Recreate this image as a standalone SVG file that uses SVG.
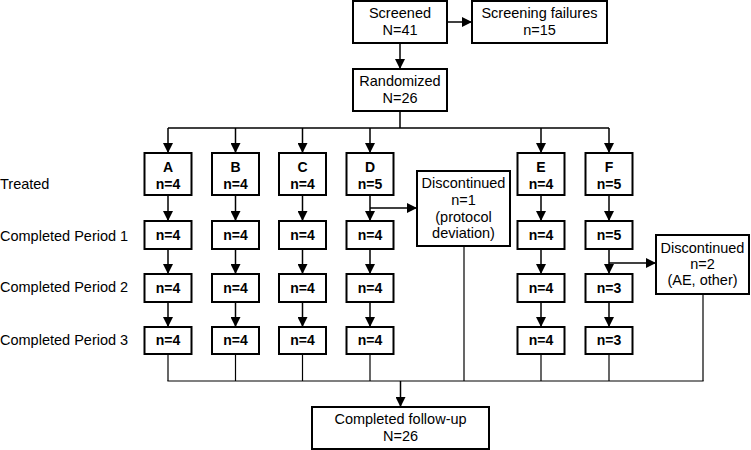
<svg xmlns="http://www.w3.org/2000/svg" width="751" height="450" viewBox="0 0 751 450">
<style>
  .box{fill:#fff;stroke:#000;stroke-width:2}
  .t{font-family:"Liberation Sans",Arial,sans-serif;font-size:14.5px;fill:#000;text-anchor:middle}
  .b{font-family:"Liberation Sans",Arial,sans-serif;font-size:14px;font-weight:bold;fill:#000;text-anchor:middle}
  .lab{font-family:"Liberation Sans",Arial,sans-serif;font-size:14.5px;fill:#000}
  .ln{stroke:#000;stroke-width:1.5;fill:none}
  .thin{stroke:#000;stroke-width:1.2;fill:none}
</style>
<defs>
  <marker id="ah" markerUnits="userSpaceOnUse" markerWidth="10" markerHeight="10" viewBox="0 0 10 10" refX="10" refY="5" orient="auto">
    <path d="M0,0 L10,5 L0,10 Z" fill="#000"/>
  </marker>
</defs>
<rect width="751" height="450" fill="#fff"/>

<g id="labels">
  <text class="lab" x="0" y="189">Treated</text>
  <text class="lab" x="0" y="241">Completed Period 1</text>
  <text class="lab" x="0" y="292">Completed Period 2</text>
  <text class="lab" x="0" y="345">Completed Period 3</text>
</g>

<g id="connectors">
  <line class="ln" x1="400" y1="43" x2="400" y2="69" marker-end="url(#ah)"/>
  <line class="ln" x1="447" y1="22" x2="472" y2="22" marker-end="url(#ah)"/>
  <line class="ln" x1="400" y1="111" x2="400" y2="128"/>
  <line class="ln" x1="168" y1="128" x2="609" y2="128"/>
  <line class="ln" x1="168" y1="128" x2="168" y2="153" marker-end="url(#ah)"/>
  <line class="ln" x1="235.5" y1="128" x2="235.5" y2="153" marker-end="url(#ah)"/>
  <line class="ln" x1="302.5" y1="128" x2="302.5" y2="153" marker-end="url(#ah)"/>
  <line class="ln" x1="370" y1="128" x2="370" y2="153" marker-end="url(#ah)"/>
  <line class="ln" x1="541" y1="128" x2="541" y2="153" marker-end="url(#ah)"/>
  <line class="ln" x1="609" y1="128" x2="609" y2="153" marker-end="url(#ah)"/>
  <!-- column flows -->
  <line class="ln" x1="168" y1="195" x2="168" y2="221" marker-end="url(#ah)"/>
  <line class="ln" x1="168" y1="249" x2="168" y2="274" marker-end="url(#ah)"/>
  <line class="ln" x1="168" y1="302" x2="168" y2="327" marker-end="url(#ah)"/>
  <line class="ln" x1="235.5" y1="195" x2="235.5" y2="221" marker-end="url(#ah)"/>
  <line class="ln" x1="235.5" y1="249" x2="235.5" y2="274" marker-end="url(#ah)"/>
  <line class="ln" x1="235.5" y1="302" x2="235.5" y2="327" marker-end="url(#ah)"/>
  <line class="ln" x1="302.5" y1="195" x2="302.5" y2="221" marker-end="url(#ah)"/>
  <line class="ln" x1="302.5" y1="249" x2="302.5" y2="274" marker-end="url(#ah)"/>
  <line class="ln" x1="302.5" y1="302" x2="302.5" y2="327" marker-end="url(#ah)"/>
  <line class="ln" x1="370" y1="195" x2="370" y2="221" marker-end="url(#ah)"/>
  <line class="ln" x1="370" y1="249" x2="370" y2="274" marker-end="url(#ah)"/>
  <line class="ln" x1="370" y1="302" x2="370" y2="327" marker-end="url(#ah)"/>
  <line class="ln" x1="541" y1="195" x2="541" y2="221" marker-end="url(#ah)"/>
  <line class="ln" x1="541" y1="249" x2="541" y2="274" marker-end="url(#ah)"/>
  <line class="ln" x1="541" y1="302" x2="541" y2="327" marker-end="url(#ah)"/>
  <line class="ln" x1="609" y1="195" x2="609" y2="221" marker-end="url(#ah)"/>
  <line class="ln" x1="609" y1="249" x2="609" y2="274" marker-end="url(#ah)"/>
  <line class="ln" x1="609" y1="302" x2="609" y2="327" marker-end="url(#ah)"/>
  <!-- discontinuations -->
  <line class="ln" x1="370" y1="208" x2="417" y2="208" marker-end="url(#ah)"/>
  <line class="ln" x1="609" y1="263" x2="656" y2="263" marker-end="url(#ah)"/>
  <!-- bottom collection -->
  <line class="thin" x1="168" y1="354" x2="168" y2="381"/>
  <line class="thin" x1="235.5" y1="354" x2="235.5" y2="381"/>
  <line class="thin" x1="302.5" y1="354" x2="302.5" y2="381"/>
  <line class="thin" x1="370" y1="354" x2="370" y2="381"/>
  <line class="thin" x1="464" y1="246" x2="464" y2="381"/>
  <line class="thin" x1="541" y1="354" x2="541" y2="381"/>
  <line class="thin" x1="609" y1="354" x2="609" y2="381"/>
  <line class="thin" x1="703" y1="294" x2="703" y2="381"/>
  <line class="thin" x1="167.4" y1="381" x2="703.6" y2="381"/>
  <line class="ln" x1="400.5" y1="381" x2="400.5" y2="407" marker-end="url(#ah)"/>
</g>

<g id="screened">
  <rect class="box" x="353" y="1" width="94" height="42"/>
  <text class="t" x="400" y="18">Screened</text>
  <text class="t" x="400" y="35">N=41</text>
</g>
<g id="screening-failures">
  <rect class="box" x="472" y="1" width="135" height="42"/>
  <text class="t" x="539.5" y="18">Screening failures</text>
  <text class="t" x="539.5" y="35">n=15</text>
</g>
<g id="randomized">
  <rect class="box" x="353" y="69" width="94" height="42"/>
  <text class="t" x="400" y="86">Randomized</text>
  <text class="t" x="400" y="103">N=26</text>
</g>

<g id="A-treated"><rect class="box" x="144.5" y="153" width="47" height="42"/><text class="b" x="168" y="172">A</text><text class="b" x="168" y="189">n=4</text></g>
<g id="B-treated"><rect class="box" x="212" y="153" width="47" height="42"/><text class="b" x="235.5" y="172">B</text><text class="b" x="235.5" y="189">n=4</text></g>
<g id="C-treated"><rect class="box" x="279" y="153" width="47" height="42"/><text class="b" x="302.5" y="172">C</text><text class="b" x="302.5" y="189">n=4</text></g>
<g id="D-treated"><rect class="box" x="346.5" y="153" width="47" height="42"/><text class="b" x="370" y="172">D</text><text class="b" x="370" y="189">n=5</text></g>
<g id="E-treated"><rect class="box" x="517.5" y="153" width="47" height="42"/><text class="b" x="541" y="172">E</text><text class="b" x="541" y="189">n=4</text></g>
<g id="F-treated"><rect class="box" x="585.5" y="153" width="47" height="42"/><text class="b" x="609" y="172">F</text><text class="b" x="609" y="189">n=5</text></g>

<g id="A-p1"><rect class="box" x="144.5" y="221" width="47" height="28"/><text class="b" x="168" y="240">n=4</text></g>
<g id="B-p1"><rect class="box" x="212" y="221" width="47" height="28"/><text class="b" x="235.5" y="240">n=4</text></g>
<g id="C-p1"><rect class="box" x="279" y="221" width="47" height="28"/><text class="b" x="302.5" y="240">n=4</text></g>
<g id="D-p1"><rect class="box" x="346.5" y="221" width="47" height="28"/><text class="b" x="370" y="240">n=4</text></g>
<g id="E-p1"><rect class="box" x="517.5" y="221" width="47" height="28"/><text class="b" x="541" y="240">n=4</text></g>
<g id="F-p1"><rect class="box" x="585.5" y="221" width="47" height="28"/><text class="b" x="609" y="240">n=5</text></g>

<g id="A-p2"><rect class="box" x="144.5" y="274" width="47" height="28"/><text class="b" x="168" y="293">n=4</text></g>
<g id="B-p2"><rect class="box" x="212" y="274" width="47" height="28"/><text class="b" x="235.5" y="293">n=4</text></g>
<g id="C-p2"><rect class="box" x="279" y="274" width="47" height="28"/><text class="b" x="302.5" y="293">n=4</text></g>
<g id="D-p2"><rect class="box" x="346.5" y="274" width="47" height="28"/><text class="b" x="370" y="293">n=4</text></g>
<g id="E-p2"><rect class="box" x="517.5" y="274" width="47" height="28"/><text class="b" x="541" y="293">n=4</text></g>
<g id="F-p2"><rect class="box" x="585.5" y="274" width="47" height="28"/><text class="b" x="609" y="293">n=3</text></g>

<g id="A-p3"><rect class="box" x="144.5" y="327" width="47" height="27"/><text class="b" x="168" y="345">n=4</text></g>
<g id="B-p3"><rect class="box" x="212" y="327" width="47" height="27"/><text class="b" x="235.5" y="345">n=4</text></g>
<g id="C-p3"><rect class="box" x="279" y="327" width="47" height="27"/><text class="b" x="302.5" y="345">n=4</text></g>
<g id="D-p3"><rect class="box" x="346.5" y="327" width="47" height="27"/><text class="b" x="370" y="345">n=4</text></g>
<g id="E-p3"><rect class="box" x="517.5" y="327" width="47" height="27"/><text class="b" x="541" y="345">n=4</text></g>
<g id="F-p3"><rect class="box" x="585.5" y="327" width="47" height="27"/><text class="b" x="609" y="345">n=3</text></g>

<g id="discontinued-1">
  <rect class="box" x="417" y="171" width="93" height="75"/>
  <text class="t" x="463.5" y="188">Discontinued</text>
  <text class="t" x="463.5" y="205">n=1</text>
  <text class="t" x="463.5" y="222">(protocol</text>
  <text class="t" x="463.5" y="238">deviation)</text>
</g>
<g id="discontinued-2">
  <rect class="box" x="656" y="235" width="93" height="59"/>
  <text class="t" x="702.5" y="253">Discontinued</text>
  <text class="t" x="702.5" y="269">n=2</text>
  <text class="t" x="702.5" y="285">(AE, other)</text>
</g>
<g id="completed-follow-up">
  <rect class="box" x="312" y="407" width="177" height="42"/>
  <text class="t" x="400.5" y="424">Completed follow-up</text>
  <text class="t" x="400.5" y="441">N=26</text>
</g>
</svg>
